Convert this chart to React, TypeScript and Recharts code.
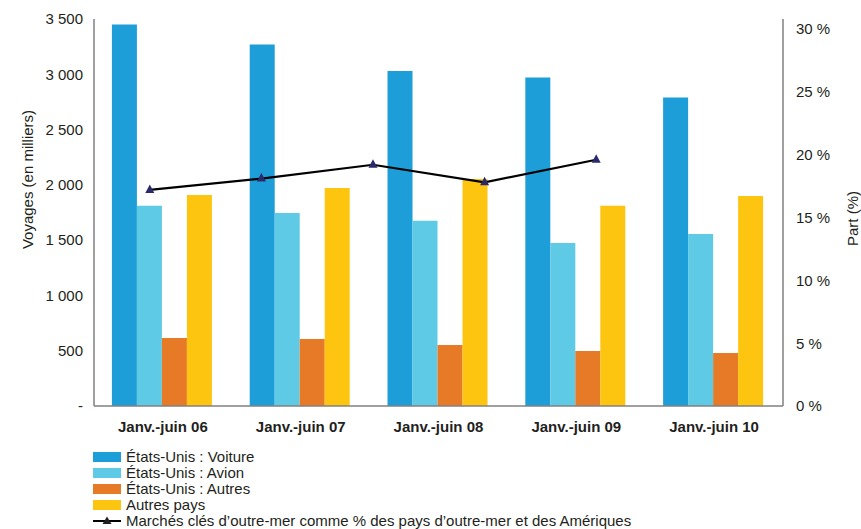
import React from 'react';
import { ComposedChart, Bar, Line, XAxis, YAxis } from 'recharts';

// Périodes
const periods = ['Janv.-juin 06', 'Janv.-juin 07', 'Janv.-juin 08', 'Janv.-juin 09', 'Janv.-juin 10'];

// Voyages (en milliers)
const usVoiture = [3450, 3270, 3030, 2970, 2790];
const usAvion = [1810, 1745, 1675, 1475, 1555];
const usAutres = [615, 605, 552, 497, 480];
const autresPays = [1908, 1972, 2052, 1810, 1900];

// Part (%)
const partMarches = [17.2, 18.1, 19.2, 17.8, 19.6];

const leftTicks = [0, 500, 1000, 1500, 2000, 2500, 3000, 3500];
const rightTicks = [0, 5, 10, 15, 20, 25, 30];

const COLORS = {
  voiture: '#1E9ED8',
  avion: '#5FCAE5',
  autres: '#E67A27',
  autresPays: '#FDC50F',
  line: '#000000',
  marker: '#2A2A6A',
  axis: '#808080',
  text: '#231F20',
};

const data = periods.map((name, i) => ({
  name,
  voiture: usVoiture[i],
  avion: usAvion[i],
  autres: usAutres[i],
  autresPays: autresPays[i],
  part: partMarches[i],
}));

const fmtThousands = (v: number) =>
  v === 0 ? '-' : String(v).replace(/\B(?=(\d{3})+(?!\d))/g, ' ');

const Triangle = (props: any) => {
  const { cx, cy } = props;
  if (cx == null || cy == null) return null;
  return (
    <path
      d={`M${cx},${cy - 5.5} L${cx + 4.5},${cy + 3} L${cx - 4.5},${cy + 3} Z`}
      fill={COLORS.marker}
    />
  );
};

const legendItems = [
  { label: 'États-Unis : Voiture', color: COLORS.voiture },
  { label: 'États-Unis : Avion', color: COLORS.avion },
  { label: 'États-Unis : Autres', color: COLORS.autres },
  { label: 'Autres pays', color: COLORS.autresPays },
];

export default function App() {
  const font = '"Liberation Sans", Arial, sans-serif';
  return (
    <div style={{ position: 'absolute', left: 0, top: 0, width: 861, height: 529, fontFamily: font, background: '#fff' }}>
      <ComposedChart
        width={861}
        height={440}
        data={data}
        margin={{ top: 19, right: 0, left: 0, bottom: 0 }}
        barCategoryGap="13%"
        barGap={0}
      >
        <XAxis
          xAxisId="bars"
          dataKey="name"
          height={34}
          tickLine={false}
          tickSize={0}
          tickMargin={15}
          axisLine={{ stroke: COLORS.axis, strokeWidth: 1.5 }}
          tick={{ fill: COLORS.text, fontSize: 15, fontWeight: 'bold', fontFamily: font }}
        />
        <XAxis xAxisId="line" dataKey="name" hide padding={{ left: 0, right: 131 }} />
        <YAxis
          yAxisId="left"
          width={94}
          domain={[0, 3500]}
          ticks={leftTicks}
          tickFormatter={fmtThousands}
          tickLine={false}
          tickSize={0}
          tickMargin={11}
          axisLine={{ stroke: COLORS.axis, strokeWidth: 1.5 }}
          tick={{ fill: COLORS.text, fontSize: 15, fontFamily: font }}
          interval={0}
          label={(p: any) => {
            const vb = p.viewBox || { x: 0, y: 19, width: 94, height: 387 };
            const cy = vb.y + vb.height / 2 - 33;
            return (
              <text
                x={33}
                y={cy}
                transform={`rotate(-90, 33, ${cy})`}
                textAnchor="middle"
                fill={COLORS.text}
                fontSize={15}
                fontFamily={font}
              >
                Voyages (en milliers)
              </text>
            );
          }}
        />
        <YAxis
          yAxisId="right"
          orientation="right"
          width={78}
          domain={[0, 30.8]}
          ticks={rightTicks}
          tickFormatter={(v: number) => `${v} %`}
          tickLine={false}
          tickSize={0}
          tickMargin={13}
          axisLine={{ stroke: COLORS.axis, strokeWidth: 1.5 }}
          tick={{ fill: COLORS.text, fontSize: 15, fontFamily: font, textAnchor: 'start' }}
          interval={0}
          label={(p: any) => {
            const vb = p.viewBox || { x: 783, y: 19, width: 78, height: 387 };
            const cy = vb.y + vb.height / 2 + 6;
            return (
              <text
                x={858}
                y={cy}
                transform={`rotate(-90, 858, ${cy})`}
                textAnchor="middle"
                fill={COLORS.text}
                fontSize={15}
                fontFamily={font}
              >
                Part (%)
              </text>
            );
          }}
        />
        <Bar xAxisId="bars" yAxisId="left" dataKey="voiture" fill={COLORS.voiture} isAnimationActive={false} />
        <Bar xAxisId="bars" yAxisId="left" dataKey="avion" fill={COLORS.avion} isAnimationActive={false} />
        <Bar xAxisId="bars" yAxisId="left" dataKey="autres" fill={COLORS.autres} isAnimationActive={false} />
        <Bar xAxisId="bars" yAxisId="left" dataKey="autresPays" fill={COLORS.autresPays} isAnimationActive={false} />
        <Line
          xAxisId="line"
          yAxisId="right"
          dataKey="part"
          type="linear"
          stroke={COLORS.line}
          strokeWidth={2.2}
          dot={<Triangle />}
          activeDot={false}
          isAnimationActive={false}
        />
      </ComposedChart>
      <div style={{ position: 'absolute', left: 93, top: 449, fontSize: 15, color: COLORS.text, lineHeight: '16px' }}>
        {legendItems.map((it) => (
          <div key={it.label} style={{ display: 'flex', alignItems: 'center', height: 16 }}>
            <span style={{ display: 'inline-block', width: 28, height: 10, background: it.color, marginRight: 5 }} />
            <span>{it.label}</span>
          </div>
        ))}
        <div style={{ display: 'flex', alignItems: 'center', height: 16 }}>
          <svg width={28} height={10} style={{ marginRight: 5 }}>
            <line x1={0} y1={5} x2={28} y2={5} stroke={COLORS.line} strokeWidth={2} />
            <path d="M14,0.5 L18.5,8 L9.5,8 Z" fill={COLORS.text} />
          </svg>
          <span>Marchés clés d’outre-mer comme % des pays d’outre-mer et des Amériques</span>
        </div>
      </div>
    </div>
  );
}
